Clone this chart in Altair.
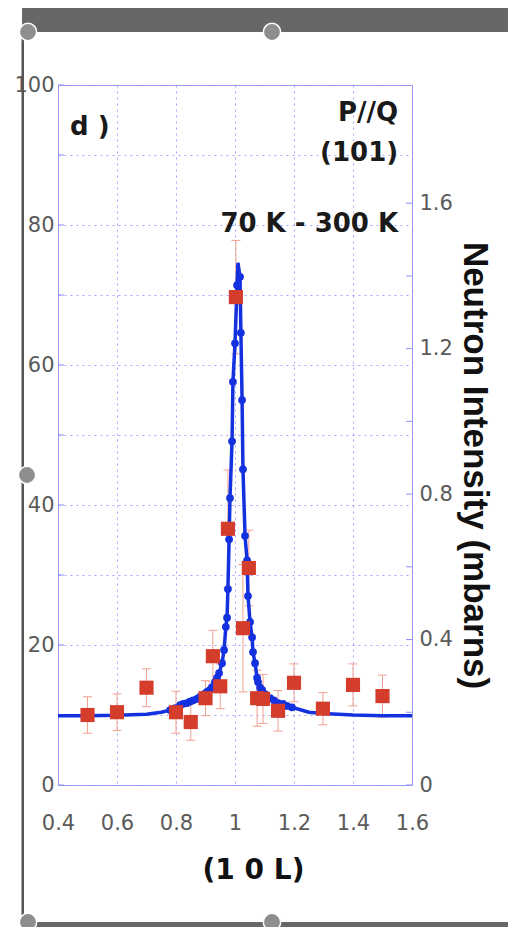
import altair as alt
import pandas as pd

# ---------------- data ----------------
# red squares (70 K - 300 K difference) with error bars, left axis units
sq_L = [0.50, 0.60, 0.70, 0.80, 0.85, 0.90, 0.925, 0.95, 0.976, 1.003, 1.027,
        1.047, 1.075, 1.095, 1.146, 1.20, 1.298, 1.40, 1.50]
sq_I = [10.0, 10.4, 13.9, 10.4, 9.0, 12.4, 18.4, 14.1, 36.6, 69.7, 22.4,
        31.0, 12.4, 12.3, 10.6, 14.6, 10.9, 14.3, 12.7]
sq_err = [2.6, 2.6, 2.7, 3.0, 2.6, 2.5, 3.7, 3.2, 8.4, 8.1, 9.1,
          5.4, 4.0, 3.5, 2.9, 2.7, 2.3, 3.0, 3.0]

# blue fine-scan points
dot_L = [0.780, 0.797, 0.814, 0.824, 0.837, 0.847, 0.858, 0.871, 0.881, 0.895,
         0.905, 0.915, 0.922, 0.932, 0.939, 0.946, 0.956, 0.963, 0.969, 0.973,
         0.976, 0.980, 0.983, 0.990, 0.993, 1.000, 1.007, 1.017, 1.020, 1.024,
         1.027, 1.034, 1.041, 1.044, 1.051, 1.058, 1.061, 1.068, 1.075, 1.078,
         1.085, 1.092, 1.102, 1.119, 1.132, 1.146, 1.163, 1.176, 1.193]
dot_I = [10.7, 11.0, 11.4, 11.6, 11.7, 11.9, 12.1, 12.3, 12.6, 13.0,
         13.3, 13.6, 14.0, 14.7, 15.3, 16.0, 17.4, 19.3, 22.6, 23.9,
         28.0, 35.1, 41.0, 49.1, 57.6, 63.1, 71.4, 72.6, 64.6, 55.0,
         45.1, 35.6, 32.1, 27.0, 23.3, 21.1, 19.0, 17.4, 15.3, 14.7,
         13.9, 13.6, 13.0, 12.4, 12.1, 11.7, 11.6, 11.3, 11.1]

# blue fitted line: flat tails and peak tip (the rest follows the points)
tail_L = [0.40, 0.50, 0.60, 0.70, 0.75, 1.25, 1.30, 1.40, 1.50, 1.60]
tail_I = [9.9, 9.9, 9.95, 10.1, 10.4, 10.4, 10.2, 10.0, 9.9, 9.9]
peak_L = [1.010]
peak_I = [74.6]

x_ticks = [0.4, 0.6, 0.8, 1.0, 1.2, 1.4, 1.6]
left_grid = [0, 10, 20, 30, 40, 50, 60, 70, 80, 90, 100]
right_minor = [0, 0.2, 0.4, 0.6, 0.8, 1.0, 1.2, 1.4, 1.6]
right_labels = [0, 0.4, 0.8, 1.2, 1.6]

ann_left_text = ["d )"]
ann_left_L = [0.441]
ann_left_I = [94.0]
ann_right_text = ["P//Q", "(101)", "70 K - 300 K"]
ann_right_L = [1.553, 1.553, 1.553]
ann_right_I = [96.0, 90.3, 80.1]

# ---------------- tables ----------------
sq = pd.DataFrame({"L": sq_L, "I": sq_I, "e": sq_err})
sq["lo"] = sq["I"] - sq["e"]
sq["hi"] = sq["I"] + sq["e"]
dots = pd.DataFrame({"L": dot_L, "I": dot_I})
fit = pd.DataFrame({"L": tail_L + dot_L + peak_L, "I": tail_I + dot_I + peak_I}).sort_values("L")
ann_l = pd.DataFrame({"t": ann_left_text, "L": ann_left_L, "I": ann_left_I})
ann_r = pd.DataFrame({"t": ann_right_text, "L": ann_right_L, "I": ann_right_I})
lg = pd.DataFrame({"v": left_grid})
rm = pd.DataFrame({"v": right_minor})
one = pd.DataFrame({"k": [0]})

# ---------------- styling ----------------
W, H = 354, 700
FONT = "DejaVu Sans"
GRID = "#8f8fff"
BLUE = "#1431e0"
RED = "#d43c2c"
ERR = "#f2a092"

xs = alt.Scale(domain=[0.4, 1.6], nice=False, zero=False)
ys = alt.Scale(domain=[0, 100], nice=False)
ys2 = alt.Scale(domain=[0, 1.925], nice=False)

x_axis = alt.Axis(values=x_ticks, format="~g", title="(1 0 L)",
                  titleFont=FONT, titleFontSize=28, titleFontWeight="bold",
                  titleColor="#111", titleX=195, titleY=85,
                  titleAlign="center", titleBaseline="middle",
                  labelFont=FONT, labelFontSize=21, labelColor="#5a5a5a",
                  labelPadding=27, labelFlush=False, labelOverlap=False,
                  ticks=False, domain=False, grid=True, gridColor=GRID,
                  gridDash=[2, 4], gridWidth=1, gridOpacity=0.8)
y_axis = alt.Axis(values=left_grid, title=None,
                  labelExpr="datum.value % 20 == 0 ? datum.label : ''",
                  labelFont=FONT, labelFontSize=21, labelColor="#5a5a5a",
                  labelPadding=4, labelFlush=False, labelOverlap=False,
                  ticks=False, domain=False, grid=True, gridColor=GRID,
                  gridDash=[2, 4], gridWidth=1, gridOpacity=0.8)
y2_axis = alt.Axis(values=right_labels, format="~g", orient="right",
                   title="Neutron Intensity (mbarns)",
                   titleFont="Liberation Sans", titleFontSize=35,
                   titleFontWeight="bold", titleColor="#111",
                   titleX=62, titleY=380, titleAngle=90,
                   titleAlign="center", titleBaseline="middle",
                   labelFont=FONT, labelFontSize=21, labelColor="#5a5a5a",
                   labelPadding=7, labelFlush=False, labelOverlap=False,
                   ticks=False, domain=False, grid=False)

X = alt.X("L:Q", scale=xs, axis=x_axis)
Y = alt.Y("I:Q", scale=ys, axis=y_axis)


def deco_rect(x1, x2, y1, y2, color):
    return alt.Chart(one).mark_rect(color=color).encode(
        x=alt.value(x1), x2=alt.value(x2), y=alt.value(y1), y2=alt.value(y2))


def deco_handle(x, y):
    return alt.Chart(one).mark_point(filled=True, shape="circle", size=300,
                                     fill="#8e8e8e", stroke="white",
                                     strokeWidth=1.5, opacity=1).encode(
        x=alt.value(x), y=alt.value(y))


# frame of the screenshot (decoration, not data)
frame = [
    deco_rect(-36, 460, -78, -53, "#676767"),
    deco_rect(-36, 460, 837, 845, "#676767"),
    deco_rect(-36.5, -34, -53, 837, "#555555"),
    deco_handle(-30, -53), deco_handle(214, -53), deco_handle(-31, 390),
    deco_handle(-30, 837), deco_handle(214, 837),
]

left_minor = alt.Chart(lg).mark_rule(color=GRID, strokeWidth=1).encode(
    x=alt.value(0), x2=alt.value(6), y=alt.Y("v:Q", scale=ys, axis=y_axis))

err_rule = alt.Chart(sq).mark_rule(color=ERR, strokeWidth=1).encode(
    x=X, y=alt.Y("lo:Q", scale=ys, axis=y_axis), y2="hi:Q")
cap_lo = alt.Chart(sq).mark_tick(color=ERR, orient="horizontal", size=9,
                                 thickness=1, opacity=1).encode(
    x=X, y=alt.Y("lo:Q", scale=ys, axis=y_axis))
cap_hi = alt.Chart(sq).mark_tick(color=ERR, orient="horizontal", size=9,
                                 thickness=1, opacity=1).encode(
    x=X, y=alt.Y("hi:Q", scale=ys, axis=y_axis))

fit_line = alt.Chart(fit).mark_line(color=BLUE, strokeWidth=3.5).encode(x=X, y=Y)
dot_pts = alt.Chart(dots).mark_point(filled=True, shape="circle", size=60,
                                     color=BLUE, opacity=1).encode(x=X, y=Y)
squares = alt.Chart(sq).mark_point(filled=True, shape="square", size=200,
                                   color=RED, opacity=1).encode(x=X, y=Y)

txt_l = alt.Chart(ann_l).mark_text(font=FONT, fontSize=26, fontWeight="bold",
                                   color="#1a1a1a", align="left",
                                   baseline="middle").encode(x=X, y=Y, text="t:N")
txt_r = alt.Chart(ann_r).mark_text(font=FONT, fontSize=26, fontWeight="bold",
                                   color="#1a1a1a", align="right",
                                   baseline="middle").encode(x=X, y=Y, text="t:N")

left_group = alt.layer(left_minor, err_rule, cap_lo, cap_hi, fit_line, dot_pts,
                       squares, txt_l, txt_r, *frame)

right_layer = alt.Chart(rm).mark_rule(color=GRID, strokeWidth=1).encode(
    x=alt.value(W - 6), x2=alt.value(W),
    y=alt.Y("v:Q", scale=ys2, axis=y2_axis))

chart = alt.layer(left_group, right_layer).resolve_scale(y="independent").properties(
    width=W, height=H,
    padding={"left": 50, "top": 77, "right": 96, "bottom": 142},
    autosize=alt.AutoSizeParams(type="none"),
    background="white",
).configure_view(stroke="#9c9cf2", strokeWidth=1)

chart.save("out.html", embed_options={"renderer": "svg", "actions": False})
